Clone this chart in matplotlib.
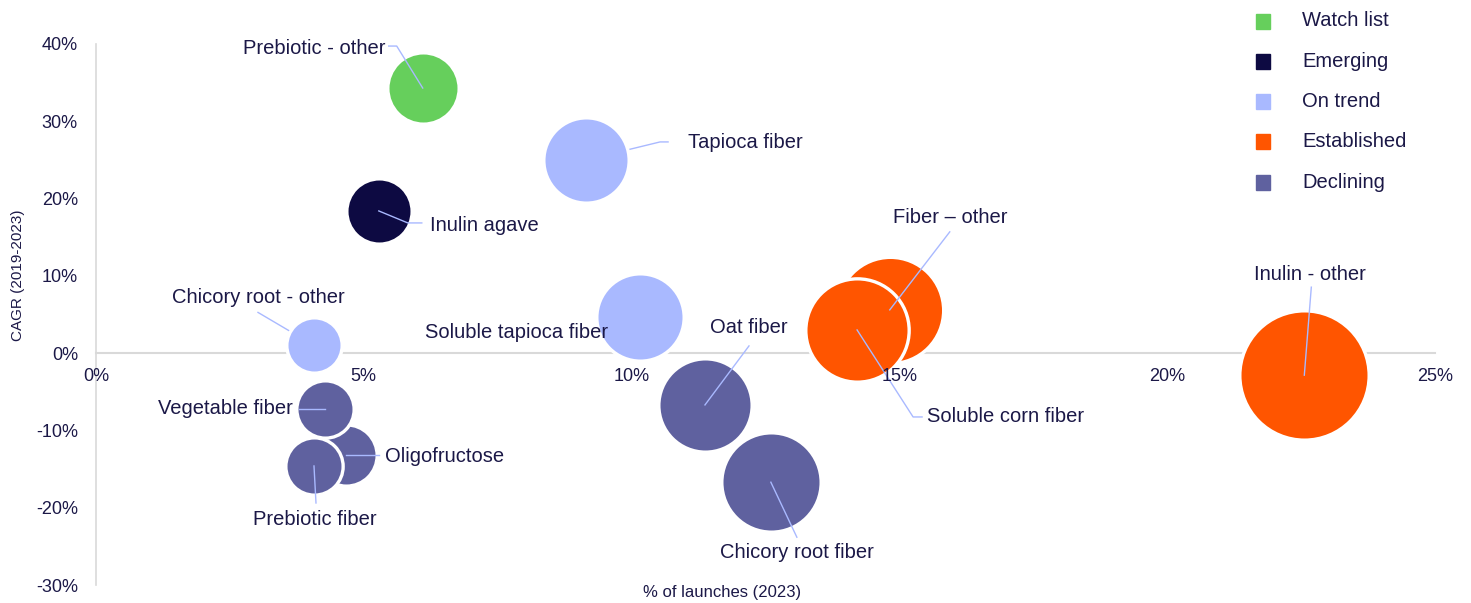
import matplotlib
matplotlib.use("Agg")
import matplotlib.pyplot as plt
import numpy as np

plt.rcParams["font.family"] = ["Liberation Sans", "DejaVu Sans"]

# ---------------- data ----------------
names = ["Prebiotic - other", "Inulin agave", "Tapioca fiber", "Chicory root - other",
         "Soluble tapioca fiber", "Fiber \u2013 other", "Soluble corn fiber", "Inulin - other",
         "Oligofructose", "Vegetable fiber", "Prebiotic fiber", "Oat fiber", "Chicory root fiber"]
category = ["Watch list", "Emerging", "On trend", "On trend",
            "On trend", "Established", "Established", "Established",
            "Declining", "Declining", "Declining", "Declining", "Declining"]
launch_share = [6.1, 5.28, 9.15, 4.07, 10.16, 14.82, 14.21, 22.56, 4.67, 4.28, 4.07, 11.37, 12.6]
cagr = [34.3, 18.4, 25.0, 1.0, 4.7, 5.6, 3.0, -2.85, -13.2, -7.2, -14.6, -6.7, -16.7]
bubble_size = [28.9, 24.0, 42.0, 16.9, 44.1, 66.3, 62.5, 99.2, 21.0, 18.2, 18.2, 50.6, 57.6]

legend_categories = ["Watch list", "Emerging", "On trend", "Established", "Declining"]
cat_colors = {"Watch list": "#66CF5C", "Emerging": "#0D0A42", "On trend": "#A9B9FF",
              "Established": "#FF5500", "Declining": "#5F619F"}

x_ticks = [0, 5, 10, 15, 20, 25]
y_ticks = [-30, -20, -10, 0, 10, 20, 30, 40]

# ---------------- layout (label offsets in pixels from bubble centre, y down) -------------
label_layout = {
    "Prebiotic - other": ([(-26, -42), (-34, -42)], (-37, -40), "right"),
    "Inulin agave": ([(29, 12), (43, 12)], (51, 15), "left"),
    "Tapioca fiber": ([(74, -18), (82, -18)], (102, -17), "left"),
    "Chicory root - other": ([(-56, -33)], (-56, -48), "center"),
    "Soluble tapioca fiber": ([(-34, 14)], (-32, 16), "right"),
    "Fiber \u2013 other": ([(60, -78)], (60, -92), "center"),
    "Soluble corn fiber": ([(56, 87), (65, 87)], (70, 87), "left"),
    "Inulin - other": ([(7, -88)], (6, -101), "center"),
    "Oligofructose": ([(33, 0)], (39, 1), "left"),
    "Vegetable fiber": ([(-26, 0)], (-32, 0), "right"),
    "Prebiotic fiber": ([(2, 37)], (1, 54), "center"),
    "Oat fiber": ([(44, -59)], (44, -77), "center"),
    "Chicory root fiber": ([(26, 55)], (26, 70), "center"),
}

text_color = "#1B1847"
leader_color = "#A9B9FF"
axis_color = "#D9D9D9"
DPI = 100

fig = plt.figure(figsize=(14.71, 6.03), dpi=DPI)
ax = fig.add_axes([96 / 1471, 1 - 585 / 603, (1435 - 96) / 1471, (585 - 44) / 603])
ax.set_xlim(0, 25)
ax.set_ylim(-30, 40)

for s in ["top", "right"]:
    ax.spines[s].set_visible(False)
ax.spines["left"].set_color(axis_color)
ax.spines["left"].set_linewidth(1.2)
ax.spines["bottom"].set_color(axis_color)
ax.spines["bottom"].set_linewidth(1.5)
ax.spines["bottom"].set_position(("data", 0))
ax.spines["bottom"].set_zorder(1)
ax.spines["left"].set_zorder(1)

ax.set_xticks(x_ticks)
ax.set_yticks(y_ticks)
ax.set_xticklabels([f"{t}%" for t in x_ticks])
ax.set_yticklabels([f"{t}%" for t in y_ticks])
ax.tick_params(axis="both", length=0, labelsize=13, labelcolor=text_color)
ax.tick_params(axis="x", pad=11)
ax.tick_params(axis="y", pad=13)
ax.xaxis.set_zorder(5)
ax.yaxis.set_zorder(5)

edge_lw = 2.4  # points
for nm, cat, x, y, sz in zip(names, category, launch_share, cagr, bubble_size):
    r_px = np.sqrt(sz * 40) + edge_lw * DPI / 72 / 2
    d_pt = 2 * r_px * 72 / DPI
    ax.scatter([x], [y], s=d_pt ** 2, color=cat_colors[cat], edgecolors="white",
               linewidths=edge_lw, zorder=3, clip_on=False)

fig.canvas.draw()
inv = ax.transData.inverted()

for nm, cat, x, y in zip(names, category, launch_share, cagr):
    pts, tpos, ha = label_layout[nm]
    cx, cy = ax.transData.transform((x, y))
    line_pts = [(x, y)] + [tuple(inv.transform((cx + dx, cy - dy))) for dx, dy in pts]
    lx, ly = zip(*line_pts)
    lz = 2 if cat == "On trend" else 4
    ax.plot(lx, ly, color=leader_color, lw=1.0, zorder=lz, clip_on=False)
    tx, ty = inv.transform((cx + tpos[0], cy - tpos[1]))
    ax.text(tx, ty, nm, ha=ha, va="center", fontsize=14.5, color=text_color, zorder=6)

# axis titles
fig.text(18 / 1471, 1 - 275 / 603, "CAGR (2019-2023)", rotation=90, ha="center", va="center",
         fontsize=11, color=text_color)
fig.text(722 / 1471, 1 - 593 / 603, "% of launches (2023)", ha="center", va="center",
         fontsize=12, color=text_color)

# legend
for i, cat in enumerate(legend_categories):
    yy = 1 - (21 + 40.3 * i) / 603
    fig.patches.append(plt.Rectangle((1256 / 1471, yy - 7.5 / 603), 14 / 1471, 15 / 603,
                                     transform=fig.transFigure, color=cat_colors[cat],
                                     figure=fig))
    fig.text(1302 / 1471, yy, cat, ha="left", va="center", fontsize=14.5, color=text_color)

fig.savefig("out.png", dpi=DPI)
